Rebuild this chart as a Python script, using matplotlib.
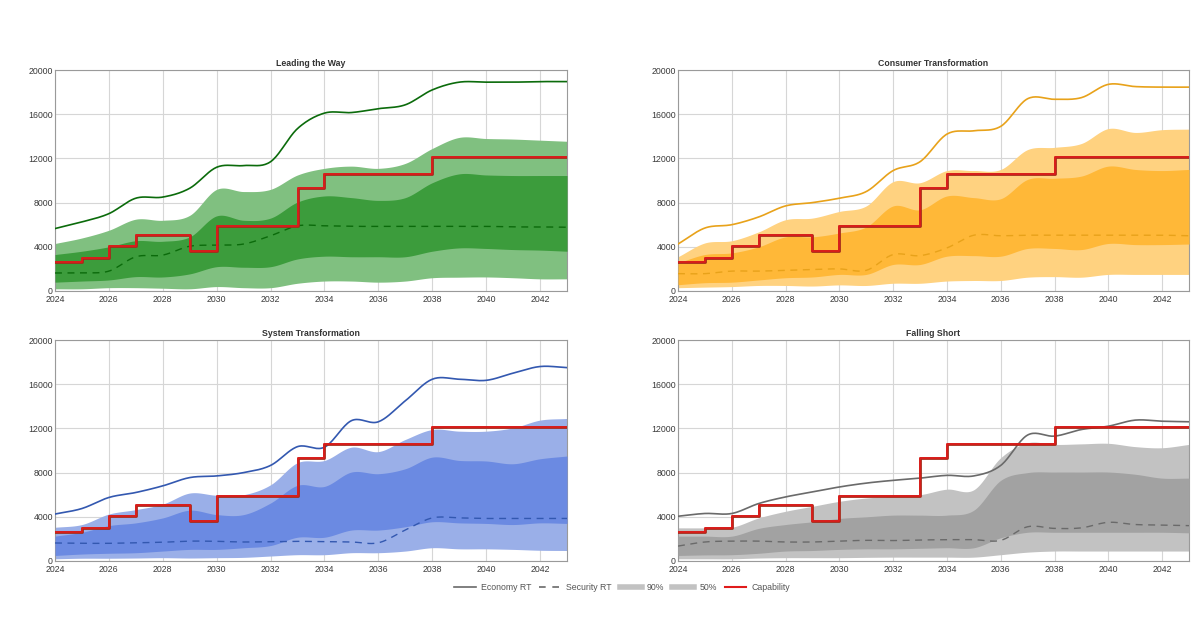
import numpy as np
import matplotlib
matplotlib.use("Agg")
import matplotlib.pyplot as plt
import matplotlib.patheffects as pe
from matplotlib.lines import Line2D

plt.rcParams['font.family'] = ['Liberation Sans', 'DejaVu Sans']

years = list(range(2024, 2044))
capability = [2600, 3000, 4100, 5100, 5100, 3600, 5900, 5900, 5900, 9300,
              10600, 10600, 10600, 10600, 12100, 12100, 12100, 12100, 12100, 12100]

# ---- Leading the Way ----
ltw_econ = [5650, 6250, 7000, 8400, 8500, 9300, 11200, 11350, 11700, 14700,
            16100, 16150, 16500, 16850, 18200, 18900, 18900, 18900, 18950, 18950]
ltw_sec = [1630, 1650, 1800, 3100, 3250, 4050, 4150, 4250, 5000, 5900,
           5900, 5850, 5850, 5850, 5850, 5850, 5850, 5800, 5800, 5770]
ltw_90_hi = [4300, 4800, 5500, 6500, 6400, 6850, 9200, 9000, 9200, 10500,
             11100, 11300, 11100, 11550, 12900, 13900, 13800, 13750, 13650, 13550]
ltw_90_lo = [200, 200, 300, 300, 250, 200, 400, 300, 300, 700,
             900, 900, 800, 900, 1200, 1250, 1270, 1200, 1100, 1100]
ltw_50_hi = [3300, 3600, 4000, 4550, 4500, 4900, 6800, 6400, 6600, 8050,
             8600, 8450, 8200, 8450, 9800, 10600, 10500, 10450, 10450, 10450]
ltw_50_lo = [800, 900, 1000, 1300, 1270, 1550, 2200, 2150, 2200, 2900,
             3150, 3100, 3100, 3100, 3600, 3900, 3850, 3750, 3700, 3600]

# ---- Consumer Transformation ----
ct_econ = [4250, 5700, 6000, 6700, 7700, 8000, 8400, 9000, 10900, 11700,
           14200, 14500, 14900, 17400, 17350, 17500, 18700, 18500, 18450, 18450]
ct_sec = [1570, 1570, 1800, 1800, 1870, 1950, 2000, 1870, 3300, 3200,
          3900, 5050, 5000, 5050, 5050, 5050, 5050, 5050, 5050, 5000]
ct_90_hi = [3100, 4350, 4550, 5350, 6450, 6600, 7200, 7700, 9900, 9800,
            10900, 10900, 11000, 12800, 13000, 13350, 14700, 14350, 14600, 14650]
ct_90_lo = [300, 350, 400, 500, 500, 450, 550, 500, 700, 700,
            900, 950, 950, 1250, 1300, 1250, 1500, 1500, 1500, 1500]
ct_50_hi = [2550, 3300, 3450, 4000, 4900, 4900, 5250, 5800, 7700, 7350,
            8600, 8450, 8350, 10100, 10200, 10400, 11300, 11000, 10900, 11000]
ct_50_lo = [570, 750, 800, 1000, 1200, 1270, 1500, 1500, 2400, 2400,
            3150, 3200, 3150, 3850, 3850, 3750, 4300, 4200, 4200, 4250]

# ---- System Transformation ----
st_econ = [4250, 4750, 5750, 6200, 6800, 7550, 7700, 8000, 8650, 10350,
           10300, 12700, 12600, 14500, 16450, 16450, 16350, 17000, 17600, 17500]
st_sec = [1630, 1600, 1600, 1650, 1700, 1800, 1780, 1720, 1750, 1780,
          1750, 1720, 1650, 2800, 3900, 3900, 3850, 3850, 3850, 3850]
st_90_hi = [3050, 3300, 4250, 4650, 5150, 6150, 5950, 6000, 6900, 8900,
            9100, 10300, 9900, 11000, 11900, 11750, 11750, 12050, 12750, 12900]
st_90_lo = [200, 250, 250, 270, 300, 270, 300, 330, 450, 570,
            570, 750, 750, 900, 1200, 1100, 1100, 1050, 970, 950]
st_50_hi = [2250, 2600, 3200, 3450, 3900, 4600, 4200, 4200, 5250, 6850,
            6750, 8050, 7900, 8350, 9400, 9100, 9050, 8800, 9250, 9500]
st_50_lo = [500, 630, 700, 750, 900, 1050, 1050, 1200, 1400, 2150,
            2150, 2800, 2800, 3100, 3550, 3450, 3400, 3300, 3450, 3400]

# ---- Falling Short ----
fs_econ = [4050, 4300, 4300, 5200, 5800, 6250, 6700, 7050, 7300, 7500,
           7750, 7700, 8650, 11400, 11300, 11900, 12200, 12750, 12650, 12600]
fs_sec = [1350, 1720, 1800, 1800, 1720, 1720, 1800, 1870, 1850, 1900,
          1930, 1930, 1870, 3100, 2950, 3000, 3500, 3300, 3250, 3200]
fs_90_hi = [3000, 3000, 3050, 3900, 4500, 4950, 5400, 5700, 5850, 6000,
            6500, 6450, 9350, 10700, 10550, 10600, 10650, 10350, 10250, 10550]
fs_90_lo = [200, 200, 200, 270, 300, 300, 300, 330, 350, 350,
            350, 350, 570, 800, 900, 900, 900, 900, 900, 900]
fs_50_hi = [2250, 2250, 2250, 2950, 3300, 3550, 3850, 4000, 4150, 4150,
            4150, 4600, 7300, 8000, 8050, 8050, 8050, 7850, 7500, 7500]
fs_50_lo = [500, 550, 570, 700, 900, 950, 1050, 1100, 1100, 1150,
            1200, 1200, 2100, 2600, 2600, 2600, 2600, 2600, 2600, 2550]

titles = ["Leading the Way", "Consumer Transformation",
          "System Transformation", "Falling Short"]
yticks = [0, 4000, 8000, 12000, 16000, 20000]
xticks = list(range(2024, 2043, 2))

panels = [
    dict(econ=ltw_econ, sec=ltw_sec, h90=ltw_90_hi, l90=ltw_90_lo, h50=ltw_50_hi, l50=ltw_50_lo,
         line='#0b6b0b', c90='#80c080', c50='#3c9c3c'),
    dict(econ=ct_econ, sec=ct_sec, h90=ct_90_hi, l90=ct_90_lo, h50=ct_50_hi, l50=ct_50_lo,
         line='#e8a21a', c90='#ffd280', c50='#ffb838'),
    dict(econ=st_econ, sec=st_sec, h90=st_90_hi, l90=st_90_lo, h50=st_50_hi, l50=st_50_lo,
         line='#3358b0', c90='#9aafe8', c50='#6b8ae2'),
    dict(econ=fs_econ, sec=fs_sec, h90=fs_90_hi, l90=fs_90_lo, h50=fs_50_hi, l50=fs_50_lo,
         line='#6a6a6a', c90='#c2c2c2', c50='#a2a2a2'),
]


def smooth(x, y, n=20):
    """Catmull-Rom spline rendering through the data points."""
    x = np.asarray(x, float)
    y = np.asarray(y, float)
    m = np.zeros_like(y)
    m[1:-1] = (y[2:] - y[:-2]) / (x[2:] - x[:-2])
    m[0] = (y[1] - y[0]) / (x[1] - x[0])
    m[-1] = (y[-1] - y[-2]) / (x[-1] - x[-2])
    xs, ys = [], []
    for i in range(len(x) - 1):
        h = x[i + 1] - x[i]
        t = np.linspace(0, 1, n, endpoint=False)
        h00 = 2 * t**3 - 3 * t**2 + 1
        h10 = t**3 - 2 * t**2 + t
        h01 = -2 * t**3 + 3 * t**2
        h11 = t**3 - t**2
        xs.append(x[i] + t * h)
        ys.append(h00 * y[i] + h10 * h * m[i] + h01 * y[i + 1] + h11 * h * m[i + 1])
    xs.append([x[-1]])
    ys.append([y[-1]])
    return np.concatenate(xs), np.concatenate(ys)


fig = plt.figure(figsize=(12, 6.18), dpi=100)
W, H = 1200, 618
boxes = [(55, 70, 567, 291), (678, 70, 1189, 291),
         (55, 340, 567, 561), (678, 340, 1189, 561)]

for p, title, (l, t, r, b) in zip(panels, titles, boxes):
    ax = fig.add_axes([l / W, 1 - b / H, (r - l) / W, (b - t) / H])
    xs, h90 = smooth(years, p['h90'])
    _, l90 = smooth(years, p['l90'])
    _, h50 = smooth(years, p['h50'])
    _, l50 = smooth(years, p['l50'])
    ax.fill_between(xs, l90, h90, color=p['c90'], lw=0, zorder=2)
    ax.fill_between(xs, l50, h50, color=p['c50'], lw=0, zorder=3)
    xe, ye = smooth(years, p['econ'])
    ax.plot(xe, ye, color=p['line'], lw=1.2, zorder=5)
    xsec, ysec = smooth(years, p['sec'])
    ax.plot(xsec, ysec, color=p['line'], lw=1.0, ls=(0, (5, 4)), zorder=5)
    ax.step(years, capability, where='post', color='#e01b1b', lw=1.2, zorder=6,
            path_effects=[pe.Stroke(linewidth=2.0, foreground='#a52a1a'), pe.Normal()])
    ax.set_xlim(2024, 2043)
    ax.set_ylim(0, 20000)
    ax.set_xticks(xticks)
    ax.set_yticks(yticks)
    ax.tick_params(labelsize=6.3, colors='#3a3a3a', length=0)
    ax.tick_params(axis='y', pad=1.5)
    ax.tick_params(axis='x', pad=3)
    ax.grid(True, color='#d6d6d6', lw=0.8, zorder=0)
    ax.set_axisbelow(True)
    for s in ax.spines.values():
        s.set_color('#9a9a9a')
        s.set_linewidth(0.8)
    ax.set_title(title, fontsize=6.3, fontweight='bold', color='#333333', pad=3)

handles = [
    Line2D([], [], color='#6a6a6a', lw=1.2),
    Line2D([], [], color='#6a6a6a', lw=1.2, ls=(0, (4, 4))),
    Line2D([], [], color='#c2c2c2', lw=4),
    Line2D([], [], color='#c2c2c2', lw=4),
    Line2D([], [], color='#e01b1b', lw=1.5),
]
labels = ["Economy RT", "Security RT", "90%", "50%", "Capability"]
fig.legend(handles, labels, loc='center', bbox_to_anchor=(622 / W, 1 - 588 / H),
           ncol=5, frameon=False, fontsize=6.3, handlelength=2.5, columnspacing=0.9,
           handletextpad=0.6, labelcolor='#555555')

fig.savefig('out.png', dpi=100, facecolor='white')
